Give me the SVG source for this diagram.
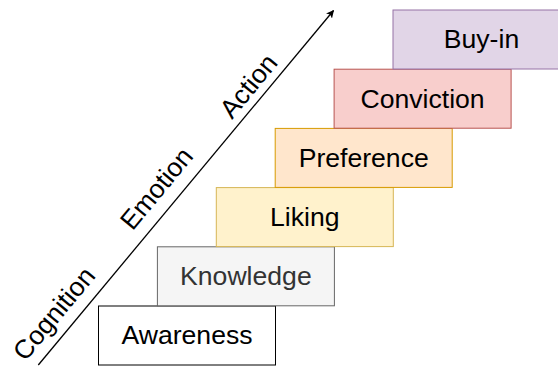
<svg xmlns="http://www.w3.org/2000/svg" width="558" height="368" viewBox="0 0 558 368">
  <defs>
    <marker id="arrowhead" viewBox="0 0 10 10" refX="9" refY="5" markerWidth="8" markerHeight="8" markerUnits="userSpaceOnUse" orient="auto">
      <path d="M0,0 L10,5 L0,10 L2.5,5 Z" fill="#000"/>
    </marker>
    <style>
      .step { stroke-width: 1; }
      .label { font-family: "Liberation Sans", Arial, sans-serif; font-size: 26.6px; text-anchor: middle; fill: #000; }
      .axis-label { font-family: "Liberation Sans", Arial, sans-serif; font-size: 26.4px; text-anchor: middle; fill: #000; }
    </style>
  </defs>

  <!-- progression axis -->
  <g id="connectors">
    <line x1="38.3" y1="365" x2="333.5" y2="10.5" stroke="#000" stroke-width="1.3" marker-end="url(#arrowhead)"/>
  </g>

  <g id="axis-labels">
    <text class="axis-label" transform="translate(54,313.5) rotate(-50.3)" dy="9">Cognition</text>
    <text class="axis-label" transform="translate(156.5,188.5) rotate(-50.3)" dy="9">Emotion</text>
    <text class="axis-label" transform="translate(248.5,86) rotate(-50.3)" dy="9">Action</text>
  </g>

  <!-- staircase of stages -->
  <g id="awareness">
    <rect class="step" x="98.5" y="306" width="177" height="59" fill="#ffffff" stroke="#000000"/>
    <text class="label" x="187" y="344.3">Awareness</text>
  </g>
  <g id="knowledge">
    <rect class="step" x="157.4" y="246.8" width="177" height="59" fill="#f5f5f5" stroke="#666666"/>
    <text class="label" x="245.9" y="285.1" style="fill:#333333">Knowledge</text>
  </g>
  <g id="liking">
    <rect class="step" x="216.3" y="187.6" width="177" height="59" fill="#fff2cc" stroke="#d6b656"/>
    <text class="label" x="304.8" y="225.9">Liking</text>
  </g>
  <g id="preference">
    <rect class="step" x="275.2" y="128.4" width="177" height="59" fill="#ffe6cc" stroke="#d79b00"/>
    <text class="label" x="363.7" y="166.7">Preference</text>
  </g>
  <g id="conviction">
    <rect class="step" x="334.1" y="69.2" width="177" height="59" fill="#f8cecc" stroke="#b85450"/>
    <text class="label" x="422.6" y="107.5">Conviction</text>
  </g>
  <g id="buy-in">
    <rect class="step" x="393" y="10" width="177" height="59" fill="#e1d5e7" stroke="#9673a6"/>
    <text class="label" x="481.5" y="48.3">Buy-in</text>
  </g>
</svg>
